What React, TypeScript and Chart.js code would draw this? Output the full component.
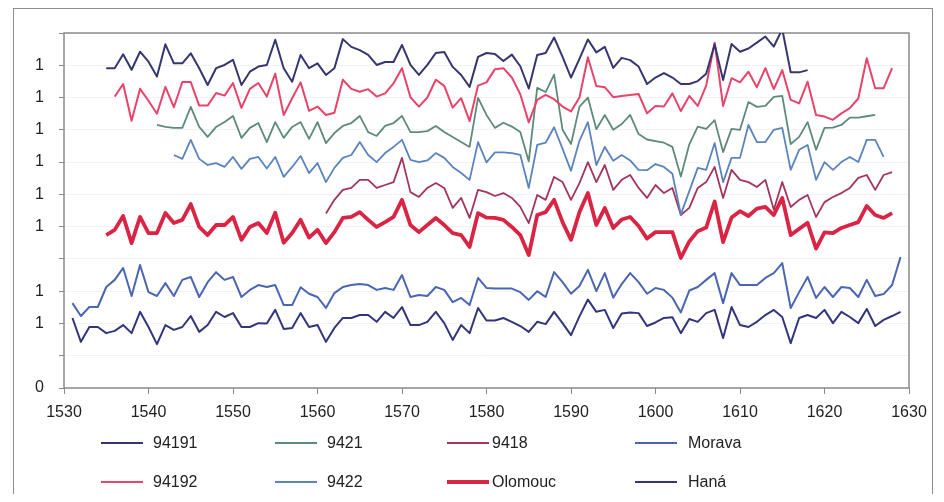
import React, { useEffect, useRef } from "react";
import { Chart, registerables } from "chart.js";

Chart.register(...registerables);

// ---------- data ----------
const X_MIN = 1530;
const X_MAX = 1630;
const X_STEP = 10;
const Y_TICK_LABELS = ["0", "", "1", "1", "", "1", "1", "1", "1", "1", "1", ""];

const START_94191 = 1535;
const VALUES_94191 = [
  99.1, 99.1, 103.4, 98.6, 104.2, 101.1, 96.5, 106.5, 100.6, 100.6, 103.7, 99.1, 93.9, 99.1, 100.1, 101.7, 93.9, 98.0, 99.6, 100.1, 107.9,
  99.1, 94.9, 103.2, 99.1, 100.6, 97.0, 99.1, 108.1, 105.7, 104.7, 103.2, 100.1, 101.0, 101.0, 106.3, 100.1, 97.0, 100.1, 103.8, 104.1, 99.5, 97.0, 93.3, 102.6,
  103.8, 103.5, 101.3, 103.3, 99.7, 92.8, 103.2, 103.8, 108.6, 102.6,
  96.2, 102.0, 108.0, 104.0, 105.7, 99.2, 102.3, 101.6, 99.6, 94.2,
  96.2, 97.6, 96.2, 94.2, 94.2, 95.1, 97.4, 106.5, 95.4, 106.6,
  104.2, 105.2, 107.0, 108.9, 105.8, 111.2, 97.8, 97.8, 98.5,
];

const START_94192 = 1536;
const VALUES_94192 = [
  90.3, 94.2, 82.8, 92.7, 89.0, 85.0, 93.3, 87.0, 94.8, 94.8,
  87.5, 87.5, 91.4, 90.6, 94.5, 86.8, 92.7, 94.5, 90.3, 97.4,
  84.6, 89.8, 94.7, 85.9, 87.2, 84.6, 85.3, 95.5, 92.7, 91.8,
  92.6, 90.3, 91.3, 94.4, 99.1, 90.1, 87.2, 90.0, 95.5, 93.6,
  86.9, 89.8, 82.7, 93.7, 94.7, 98.8, 99.1, 96.2, 91.0, 82.3,
  89.3, 90.8, 89.5, 87.2, 85.7, 90.0, 102.5, 93.6, 93.2, 90.1,
  90.5, 90.8, 91.1, 85.1, 87.4, 87.2, 91.3, 85.8, 90.5, 87.4,
  93.7, 107.0, 87.4, 96.0, 94.7, 98.0, 93.2, 99.1, 92.6, 98.5,
  89.3, 88.2, 94.9, 84.6, 84.1, 83.1, 85.1, 86.7, 89.7, 102.2,
  92.9, 92.9, 99.1,
];

const START_9421 = 1541;
const VALUES_9421 = [
  81.5, 80.9, 80.6, 80.6, 87.1, 80.9, 77.8, 80.9, 82.4, 84.3,
  77.5, 80.6, 82.1, 76.2, 82.4, 77.5, 80.9, 82.4, 77.2, 82.4,
  75.9, 79.0, 81.2, 82.1, 84.3, 79.3, 78.1, 81.2, 82.1, 84.3,
  79.3, 79.3, 79.6, 81.2, 79.3, 77.8, 76.2, 74.7, 89.9, 84.6,
  80.6, 82.2, 81.0, 79.3, 70.2, 93.0, 91.7, 97.1, 80.0, 75.6,
  87.2, 90.0, 80.2, 84.6, 80.0, 81.8, 84.6, 78.7, 77.0, 76.5,
  76.0, 74.7, 65.5, 75.5, 81.0, 80.3, 83.0, 73.1, 80.3, 80.0,
  88.6, 87.1, 87.4, 90.2, 90.5, 75.6, 77.8, 82.4, 73.8, 80.6,
  80.7, 81.5, 83.8, 83.8, 84.2, 84.6,
];

const START_9422 = 1543;
const VALUES_9422 = [
  72.2, 71.0, 76.9, 71.0, 69.1, 69.7, 68.5, 71.6, 67.9, 71.0,
  71.6, 68.0, 71.6, 65.4, 68.5, 71.9, 66.6, 69.7, 63.8, 68.2,
  71.3, 72.2, 76.2, 72.2, 70.0, 72.8, 74.7, 76.9, 70.7, 70.0,
  70.5, 72.8, 71.3, 68.5, 66.6, 64.5, 76.2, 69.9, 73.0, 73.0,
  72.8, 72.2, 62.0, 75.3, 76.0, 80.8, 74.1, 67.3, 76.6, 82.4,
  69.1, 74.7, 70.4, 72.2, 70.5, 67.6, 67.5, 69.4, 68.5, 66.4,
  53.8, 61.0, 68.2, 67.6, 75.9, 63.8, 71.3, 71.3, 81.5, 76.2,
  76.2, 80.0, 80.6, 67.6, 73.8, 75.3, 64.5, 70.0, 67.6, 70.0,
  71.6, 70.0, 76.9, 76.9, 71.6,
];

const START_9418 = 1561;
const VALUES_9418 = [
  54.1, 58.3, 61.4, 62.0, 64.5, 64.5, 62.0, 62.9, 63.8, 71.3,
  60.7, 59.2, 62.0, 63.5, 62.0, 55.8, 58.9, 52.7, 61.4, 60.7,
  59.5, 60.4, 58.9, 56.1, 51.1, 59.8, 58.3, 65.4, 63.8, 58.3,
  63.5, 70.0, 63.8, 69.1, 61.4, 64.5, 66.0, 62.0, 58.9, 62.9,
  60.4, 62.0, 53.6, 55.8, 62.0, 63.8, 68.5, 58.9, 67.6, 64.5,
  63.8, 62.3, 64.5, 55.2, 63.8, 56.1, 58.3, 59.8, 53.0, 57.6,
  59.2, 60.4, 62.0, 65.1, 66.0, 61.4, 66.0, 66.9,
];

const START_OLOMOUC = 1535;
const VALUES_OLOMOUC = [
  47.4, 49.0, 53.3, 44.9, 53.0, 48.0, 48.0, 54.2, 51.1, 52.1,
  57.0, 49.9, 47.4, 50.5, 50.5, 53.0, 45.9, 49.9, 51.1, 48.0,
  54.3, 45.0, 48.0, 52.1, 46.6, 49.0, 44.9, 48.3, 52.7, 53.0,
  54.5, 52.1, 49.9, 51.4, 53.0, 58.3, 50.5, 48.3, 50.5, 52.7,
  50.5, 48.0, 47.4, 43.7, 54.2, 52.8, 52.7, 52.1, 49.9, 47.4,
  41.2, 53.6, 54.5, 58.3, 51.4, 45.9, 54.5, 60.4, 50.5, 55.8,
  49.6, 52.2, 53.0, 50.2, 46.3, 48.3, 48.3, 48.3, 40.3, 45.4,
  48.6, 49.7, 57.8, 45.2, 52.8, 54.8, 53.3, 55.6, 56.1, 53.6,
  58.9, 47.4, 49.3, 51.2, 43.2, 48.2, 48.0, 49.6, 50.5, 51.4,
  56.4, 53.6, 52.7, 54.2,
];

const START_MORAVA = 1531;
const VALUES_MORAVA = [
  26.3, 22.3, 25.1, 25.1, 31.3, 33.5, 37.2, 28.5, 38.1, 29.7,
  28.5, 32.5, 28.5, 33.5, 34.4, 28.2, 32.8, 35.9, 33.5, 34.4,
  28.2, 30.4, 31.9, 31.3, 31.9, 25.7, 25.7, 31.2, 29.2, 28.2,
  24.8, 29.4, 31.3, 31.9, 32.2, 31.9, 30.4, 31.0, 30.4, 35.0,
  28.2, 28.8, 28.5, 31.3, 30.4, 26.6, 27.9, 25.7, 34.1, 31.0,
  30.8, 30.8, 30.8, 29.7, 27.3, 30.0, 28.2, 35.9, 32.8, 29.2,
  31.6, 36.6, 30.0, 35.6, 28.0, 32.2, 35.6, 32.8, 29.2, 31.0,
  30.4, 28.0, 23.4, 30.2, 31.3, 33.5, 35.6, 26.3, 35.6, 31.9,
  31.9, 31.9, 34.1, 35.6, 38.7, 24.8, 29.7, 34.4, 27.9, 31.3,
  28.2, 31.3, 31.0, 28.2, 33.5, 28.5, 29.1, 31.9, 40.6,
];

const START_HANA = 1531;
const VALUES_HANA = [
  21.7, 14.3, 18.9, 18.9, 17.0, 17.7, 19.5, 17.0, 23.6, 18.9,
  13.6, 19.5, 18.0, 18.9, 22.3, 17.4, 19.5, 23.6, 22.0, 23.2,
  18.9, 18.9, 20.1, 20.0, 24.2, 18.3, 18.6, 23.2, 18.9, 19.5,
  14.3, 18.6, 21.7, 21.7, 22.6, 22.6, 20.5, 23.6, 21.7, 25.1,
  19.5, 19.5, 20.5, 23.6, 20.1, 14.9, 19.5, 17.0, 24.8, 20.9,
  20.9, 21.7, 20.5, 19.2, 17.4, 20.5, 19.8, 23.6, 20.1, 16.4,
  22.2, 27.4, 23.6, 24.2, 18.6, 23.1, 23.4, 23.2, 19.2, 20.3,
  21.7, 21.9, 17.0, 21.4, 20.5, 23.2, 24.2, 15.5, 25.1, 19.5,
  18.9, 20.5, 22.6, 24.2, 22.0, 13.9, 21.7, 22.6, 21.7, 24.2,
  20.1, 23.6, 22.0, 20.1, 24.5, 19.2, 21.1, 22.3, 23.6,
];

const SERIES_NAMES = ["94191", "94192", "9421", "9422", "9418", "Olomouc", "Morava", "Haná"];
const SERIES_STARTS = [START_94191, START_94192, START_9421, START_9422, START_9418, START_OLOMOUC, START_MORAVA, START_HANA];
const SERIES_VALUES = [VALUES_94191, VALUES_94192, VALUES_9421, VALUES_9422, VALUES_9418, VALUES_OLOMOUC, VALUES_MORAVA, VALUES_HANA];

// ---------- styles ----------
const SERIES_COLORS = ["#35366f", "#e8436b", "#5d8b78", "#5a84bb", "#a3345f", "#d92444", "#4a66b2", "#33357c"];
const SERIES_WIDTHS = [2, 2, 1.8, 1.8, 1.8, 3.8, 2, 2];
// legend layout: [column, row] for each series
const LEGEND_CELL = [[0, 0], [0, 1], [1, 0], [1, 1], [2, 0], [2, 1], [3, 0], [3, 1]];
const LEGEND_COL_LINE_X = [93, 267, 439, 627];
const LEGEND_COL_TEXT_X = [145, 319, 484, 680];
const LEGEND_ROW_Y = [435, 474];

const FONT_FAMILY = "'Liberation Sans', Arial, Helvetica, sans-serif";
const W = 928;
const H = 486;

const plotBorder = {
  id: "plotBorder",
  beforeDatasetsDraw(chart: any) {
    const { ctx, chartArea } = chart;
    const { left, top, right, bottom } = chartArea;
    ctx.save();
    ctx.strokeStyle = "#8a8a8a";
    ctx.lineWidth = 1.5;
    ctx.strokeRect(left, top, right - left, bottom - top);
    ctx.restore();
  },
};

export default function App() {
  const canvasRef = useRef<HTMLCanvasElement | null>(null);

  useEffect(() => {
    if (!canvasRef.current) return;
    const datasets = SERIES_NAMES.map((name, i) => ({
      label: name,
      data: SERIES_VALUES[i].map((v, k) => ({ x: SERIES_STARTS[i] + k, y: v })),
      borderColor: SERIES_COLORS[i],
      backgroundColor: SERIES_COLORS[i],
      borderWidth: SERIES_WIDTHS[i],
      pointRadius: 0,
      tension: 0,
      fill: false,
      borderJoinStyle: "round" as const,
    }));
    const chart = new Chart(canvasRef.current, {
      type: "line",
      data: { datasets },
      plugins: [plotBorder],
      options: {
        animation: false,
        responsive: false,
        maintainAspectRatio: false,
        layout: { padding: { left: 0, top: 25, right: 27, bottom: 76 } },
        plugins: { legend: { display: false }, tooltip: { enabled: false } },
        scales: {
          x: {
            type: "linear",
            min: X_MIN,
            max: X_MAX,
            ticks: {
              stepSize: X_STEP,
              autoSkip: false,
              maxRotation: 0,
              padding: 9,
              color: "#222",
              font: { family: FONT_FAMILY, size: 16 },
              callback: (v: any) => String(v),
            },
            grid: { display: true, drawOnChartArea: false, tickLength: 6, tickColor: "#888" },
            border: { display: false },
            afterFit(s: any) {
              s.height = 30;
            },
          },
          y: {
            min: 0,
            max: 110,
            ticks: {
              stepSize: 10,
              padding: 15,
              color: "#222",
              font: { family: FONT_FAMILY, size: 16 },
              callback: (v: any) => Y_TICK_LABELS[Math.round(Number(v) / 10)] ?? "",
            },
            grid: { color: "rgba(0,0,0,0.05)", tickLength: 5, tickColor: "#888" },
            border: { display: false },
            afterFit(s: any) {
              s.width = 56;
            },
          },
        },
      },
    });
    return () => chart.destroy();
  }, []);

  return (
    <div style={{ position: "relative", width: W, height: H, overflow: "hidden", fontFamily: FONT_FAMILY, background: "#fff" }}>
      <div
        style={{
          position: "absolute",
          left: 5,
          top: 0,
          width: 920,
          height: 500,
          border: "1.5px solid #8c8c8c",
          boxSizing: "border-box",
        }}
      />
      <canvas ref={canvasRef} width={W} height={H} style={{ position: "absolute", left: 0, top: 0, width: W, height: H, display: "block" }} />
      {SERIES_NAMES.map((name, i) => {
        const [c, r] = LEGEND_CELL[i];
        const y = LEGEND_ROW_Y[r];
        const t = Math.max(2, SERIES_WIDTHS[i]);
        return (
          <React.Fragment key={name}>
            <div
              style={{
                position: "absolute",
                left: LEGEND_COL_LINE_X[c],
                top: y - t / 2,
                width: 42,
                height: t,
                background: SERIES_COLORS[i],
              }}
            />
            <span
              style={{
                position: "absolute",
                left: LEGEND_COL_TEXT_X[c],
                top: y - 10,
                lineHeight: "20px",
                fontSize: 16,
                color: "#222",
                whiteSpace: "nowrap",
              }}
            >
              {name}
            </span>
          </React.Fragment>
        );
      })}
    </div>
  );
}
